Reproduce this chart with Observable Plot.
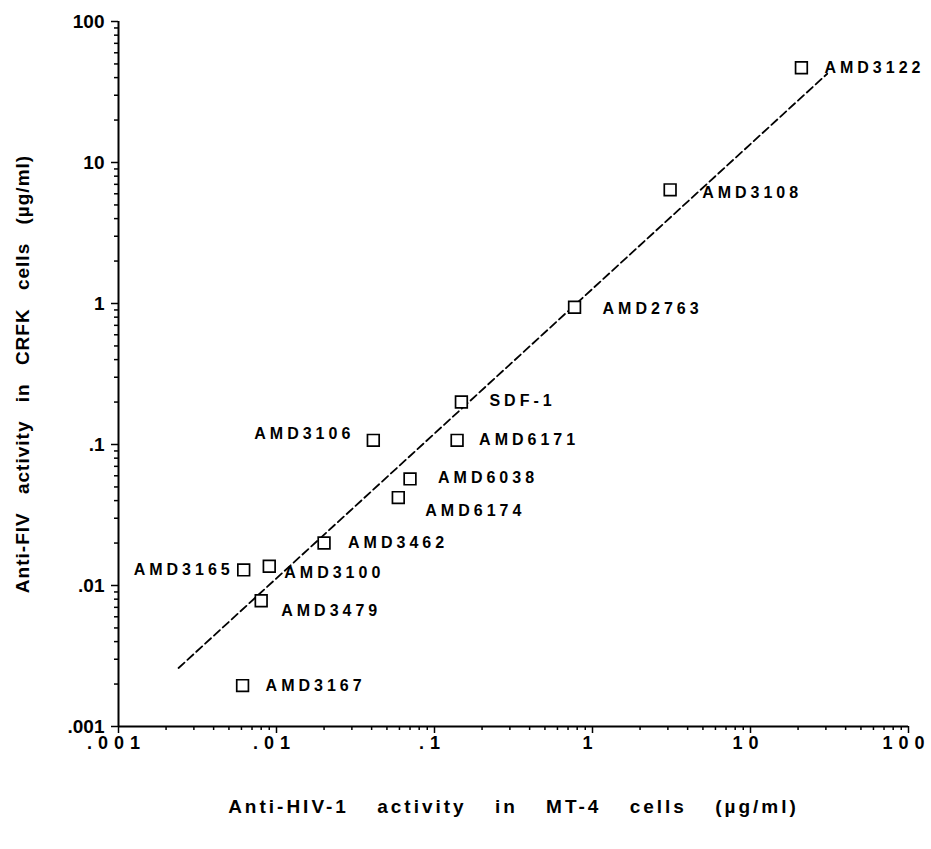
<!DOCTYPE html>
<html>
<head>
<meta charset="utf-8">
<script src="https://cdn.jsdelivr.net/npm/d3@7"></script>
<script src="https://cdn.jsdelivr.net/npm/@observablehq/plot@0.6"></script>
<style>
  html, body { margin: 0; padding: 0; background: #fff; }
</style>
</head>
<body>
<div id="chart"></div>
<script>
// ---- data ----
const compounds = ["AMD3122","AMD3108","AMD2763","SDF-1","AMD3106","AMD6171","AMD6038","AMD6174","AMD3462","AMD3165","AMD3100","AMD3479","AMD3167"];
const antiHIV  = [21,   3.1,  0.77, 0.148, 0.041, 0.139, 0.070, 0.059, 0.020, 0.0062, 0.0090, 0.0080, 0.0061];
const antiFIV  = [47,   6.4,  0.94, 0.20,  0.107, 0.107, 0.057, 0.042, 0.020, 0.0129, 0.0137, 0.0078, 0.00195];
// regression line end points
const fitHIV = [0.0024, 30.6];
const fitFIV = [0.0026, 42.6];
// axis ticks
const majorTicks = [0.001, 0.01, 0.1, 1, 10, 100];
const xTickLabels = [".001", ".01", ".1", "1", "10", "100"];
const yTickLabels = [".001", ".01", ".1", "1", "10", "100"];
const xTitle = "Anti-HIV-1 activity in MT-4 cells (µg/ml)";
const yTitle = "Anti-FIV activity in CRFK cells (µg/ml)";

// ---- layout of the point labels (annotation placement, not data) ----
const labelPlacement = {
  "AMD3122": {dx: 23, dy: 0, anchor: "start"},
  "AMD3108": {dx: 32, dy: 3, anchor: "start"},
  "AMD2763": {dx: 28, dy: 2, anchor: "start"},
  "SDF-1":   {dx: 28, dy: -1, anchor: "start"},
  "AMD3106": {dx: -19, dy: -6, anchor: "end"},
  "AMD6171": {dx: 22, dy: 0, anchor: "start"},
  "AMD6038": {dx: 28, dy: -1, anchor: "start"},
  "AMD6174": {dx: 27, dy: 13, anchor: "start"},
  "AMD3462": {dx: 24, dy: 0, anchor: "start"},
  "AMD3165": {dx: -10, dy: 0, anchor: "end"},
  "AMD3100": {dx: 15, dy: 7, anchor: "start"},
  "AMD3479": {dx: 20, dy: 10, anchor: "start"},
  "AMD3167": {dx: 23, dy: 0, anchor: "start"}
};

const points = compounds.map((name, i) => ({name, x: antiHIV[i], y: antiFIV[i]}));
const fit = fitHIV.map((x, i) => ({x, y: fitFIV[i]}));
const xTicks = majorTicks.map((v, i) => ({v, label: xTickLabels[i]}));
const minorTicks = majorTicks.slice(0, -1).flatMap(d => d3.range(2, 10).map(k => k * d));
const fmt = labels => v => labels[majorTicks.findIndex(t => Math.abs(Math.log10(t) - Math.log10(v)) < 1e-6)];

const FONT = "'Liberation Sans', Arial, Helvetica, sans-serif";

const labelMarks = points.map(p => {
  const L = labelPlacement[p.name];
  return Plot.text([p], {x: "x", y: "y", text: "name", dx: L.dx, dy: L.dy, textAnchor: L.anchor,
    fontSize: 16, fontWeight: "bold", fill: "#000"});
});

const chart = Plot.plot({
  width: 931,
  height: 849,
  marginLeft: 118,
  marginRight: 23,
  marginTop: 21,
  marginBottom: 123,
  style: {fontFamily: FONT, background: "#fff", color: "#000", overflow: "visible"},
  x: {type: "log", domain: [0.001, 100]},
  y: {type: "log", domain: [0.001, 100]},
  marks: [
    // minor ticks
    Plot.axisX({ticks: minorTicks, tickSize: 4, text: null, label: null, strokeWidth: 1.5}),
    Plot.axisY({ticks: minorTicks, tickSize: 4, text: null, label: null, strokeWidth: 1.5}),
    // major ticks
    Plot.axisX({ticks: majorTicks, tickSize: 7, text: null, label: null, strokeWidth: 1.5}),
    Plot.axisY({ticks: majorTicks, tickSize: 7, tickPadding: 7, tickFormat: fmt(yTickLabels), label: null,
      fontSize: 19, fontWeight: "bold", strokeWidth: 1.5}),
    // x tick labels (letter-spaced)
    Plot.text(xTicks, {x: "v", text: "label", frameAnchor: "bottom", dy: 22, dx: -2, textAnchor: "middle",
      fontSize: 18, fontWeight: "bold", ariaHidden: false}),
    // axis lines
    Plot.ruleY([0.001], {strokeWidth: 2}),
    Plot.ruleX([0.001], {strokeWidth: 2}),
    // regression line
    Plot.line(fit, {x: "x", y: "y", stroke: "#000", strokeWidth: 1.8, strokeDasharray: "8,4"}),
    // points
    Plot.dot(points, {x: "x", y: "y", symbol: "square", r: 6.6, fill: "#fff", stroke: "#000", strokeWidth: 1.7}),
    ...labelMarks,
    // axis titles
    Plot.text([xTitle], {frameAnchor: "bottom", textAnchor: "middle", dy: 86, fontSize: 19, fontWeight: "bold"}),
    Plot.text([yTitle], {frameAnchor: "left", textAnchor: "middle", dx: -96, rotate: -90, fontSize: 19, fontWeight: "bold"})
  ]
});

// text spacing (letter / word spacing as in the reference)
d3.select(chart).selectAll('g[aria-label="text"] text').each(function() {
  const t = this.textContent;
  if (t === xTitle) { this.style.letterSpacing = "3px"; this.style.wordSpacing = "20px"; }
  else if (t === yTitle) { this.style.letterSpacing = "1px"; this.style.wordSpacing = "12px"; }
  else if (xTickLabels.includes(t)) { this.style.letterSpacing = "6px"; }
  else { this.style.letterSpacing = "4px"; }
});

document.getElementById("chart").appendChild(chart);
</script>
</body>
</html>
